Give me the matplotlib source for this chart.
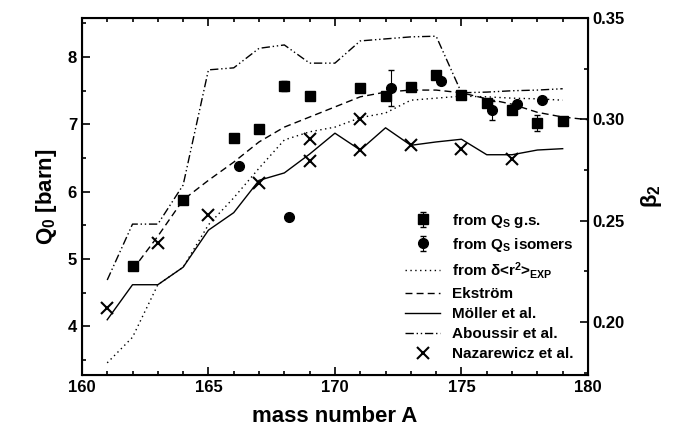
import matplotlib
matplotlib.use("Agg")
import matplotlib.pyplot as plt
from matplotlib.ticker import MultipleLocator

plt.rcParams['font.family'] = ['Liberation Sans', 'DejaVu Sans']
plt.rcParams['font.weight'] = 'bold'
plt.rcParams['mathtext.fontset'] = 'custom'
plt.rcParams['mathtext.rm'] = 'Liberation Sans:bold'
plt.rcParams['mathtext.it'] = 'Liberation Sans:bold'
plt.rcParams['mathtext.bf'] = 'Liberation Sans:bold'

# Q_S ground states
gs_A = [162, 164, 166, 167, 168, 169, 171, 172, 173, 174, 175, 176, 177, 178, 179]
gs_Q = [4.90, 5.88, 6.80, 6.93, 7.57, 7.42, 7.54, 7.42, 7.56, 7.73, 7.44, 7.32, 7.21, 7.02, 7.05]
gs_err = [0.05, 0.05, 0.04, 0.04, 0.08, 0.04, 0.04, 0.04, 0.04, 0.05, 0.04, 0.06, 0.05, 0.12, 0.04]

# Q_S isomers
iso_A = [166.2, 168.2, 172.2, 174.2, 176.2, 177.2, 178.2]
iso_Q = [6.38, 5.63, 7.54, 7.65, 7.21, 7.30, 7.36]
iso_err = [0.03, 0.03, 0.27, 0.04, 0.14, 0.04, 0.03]

# from delta<r^2>
rms_A = list(range(161, 180))
rms_Q = [3.46, 3.84, 4.62, 4.88, 5.51, 5.91, 6.35, 6.77, 6.89, 6.96, 7.10, 7.17, 7.36, 7.39,
         7.42, 7.41, 7.39, 7.38, 7.36]

# Ekstroem
ek_A = list(range(162, 181))
ek_Q = [4.84, 5.34, 5.88, 6.17, 6.44, 6.74, 6.96, 7.11, 7.26, 7.41, 7.48, 7.51, 7.51, 7.47,
        7.38, 7.30, 7.18, 7.11, 7.07]

# Moeller et al.
mo_A = list(range(161, 180))
mo_Q = [4.10, 4.62, 4.62, 4.88, 5.43, 5.69, 6.17, 6.28, 6.56, 6.87, 6.62, 6.95, 6.69, 6.74,
        6.78, 6.55, 6.55, 6.62, 6.64]

# Aboussir et al.
ab_A = list(range(161, 180))
ab_Q = [4.69, 5.52, 5.52, 6.10, 7.81, 7.84, 8.13, 8.18, 7.91, 7.91, 8.24, 8.27, 8.30, 8.31,
        7.47, 7.48, 7.50, 7.51, 7.53]

# Nazarewicz et al.
nz_A = [161, 163, 165, 167, 169, 169, 171, 171, 173, 175, 177]
nz_Q = [4.27, 5.24, 5.66, 6.13, 6.78, 6.46, 7.08, 6.62, 6.69, 6.63, 6.49]

fig = plt.figure(figsize=(6.77, 4.34), dpi=100)
ax = fig.add_axes([0.121, 0.136, 0.7475, 0.8225])

ax.plot(rms_A, rms_Q, ls=(0, (1, 2.5)), color='k', lw=1.0, label=r'from $\delta$<r$^2$>$_{EXP}$')
ax.plot(ek_A, ek_Q, ls=(0, (5, 3)), color='k', lw=1.0, label='Ekström')
ax.plot(mo_A, mo_Q, ls='-', color='k', lw=1.0, label='Möller et al.')
ax.plot(ab_A, ab_Q, ls=(0, (6, 2, 1, 2, 1, 2)), color='k', lw=1.0, label='Aboussir et al.')
ax.plot(nz_A, nz_Q, ls='none', marker='x', color='k', ms=8, mew=1.5, label='Nazarewicz et al.')
ax.errorbar(gs_A, gs_Q, yerr=gs_err, fmt='s', color='k', ms=7, capsize=2.5, elinewidth=0.8,
            label='from Q$_S$ g.s.')
ax.errorbar(iso_A, iso_Q, yerr=iso_err, fmt='o', color='k', ms=7, capsize=2.5, elinewidth=0.8,
            label='from Q$_S$ isomers')

ax.set_xlim(160, 180)
ax.set_ylim(3.28, 8.58)
ax.xaxis.set_major_locator(MultipleLocator(5))
ax.xaxis.set_minor_locator(MultipleLocator(1))
ax.yaxis.set_major_locator(MultipleLocator(1))
ax.yaxis.set_minor_locator(MultipleLocator(0.5))
ax.tick_params(which='both', direction='in', top=True, right=False, width=1.2, labelsize=12)
ax.tick_params(which='major', length=6)
ax.tick_params(which='minor', length=3)
for s in ax.spines.values():
    s.set_linewidth(1.5)

ax.set_xlabel('mass number A', fontsize=16, fontweight='bold', labelpad=8)
ax.set_ylabel('Q$_0$ [barn]', fontsize=16, fontweight='bold', labelpad=6)

ax2 = ax.twinx()
ax2.set_ylim(0.1738, 0.35)
ax2.yaxis.set_minor_locator(MultipleLocator(0.025))
ax2.set_yticks([0.20, 0.25, 0.30, 0.35])
ax2.set_yticklabels(['0.20', '0.25', '0.30', '0.35'])
ax2.tick_params(which='both', direction='in', width=1.2, labelsize=12)
ax2.tick_params(which='major', length=6)
ax2.tick_params(which='minor', length=3)
ax2.set_ylabel(r'$\beta_2$', fontsize=16, rotation=90, labelpad=10)

handles, labels = ax.get_legend_handles_labels()
order = [5, 6, 0, 1, 2, 3, 4]
ax.legend([handles[i] for i in order], [labels[i] for i in order], loc='lower right',
          frameon=False, fontsize=11, handlelength=2.3, labelspacing=0.4,
          bbox_to_anchor=(1.0, 0.0))

fig.savefig('out.png', dpi=100)
